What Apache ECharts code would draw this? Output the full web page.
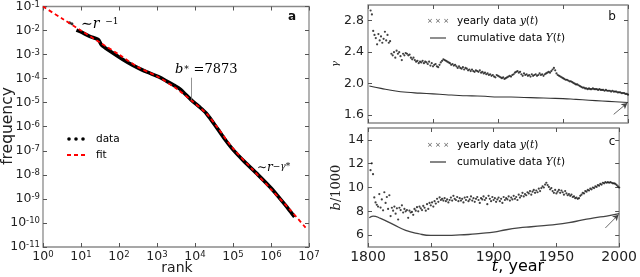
<!DOCTYPE html>
<html><head><meta charset="utf-8">
<script src="https://cdn.jsdelivr.net/npm/echarts@6/dist/echarts.min.js"></script>
<style>html,body{margin:0;padding:0;background:#fff}#c{width:640px;height:277px}</style>
</head><body><div id="c"></div>
<script>
// ---------- Panel a: rank-frequency (log10 exponents) ----------
const dataRankExp = [0.88,1.0,1.23,1.45,1.54,1.76,2.1,2.37,2.6,2.81,3.05,3.25,3.45,3.6,3.9,4.1,4.3,4.6,4.8,5.0,5.3,5.66,6.0,6.23,6.45,6.62];
const dataFreqExp = [-1.98,-2.06,-2.24,-2.37,-2.6,-2.85,-3.2,-3.45,-3.63,-3.77,-3.93,-4.1,-4.28,-4.42,-4.88,-5.15,-5.45,-6.1,-6.55,-6.95,-7.45,-8.0,-8.55,-8.98,-9.4,-9.75];
const headRankExp = [0.70,0.76];
const headFreqExp = [-1.68,-1.72];
const fitRankExp = [0,0.5,1,1.5,2,2.5,3,3.5,3.9,4.3,4.6,5,5.5,6,6.5,6.94];
const fitFreqExp = [-1,-1.5,-2.0,-2.5,-3.0,-3.52,-3.9,-4.4,-4.9,-5.45,-6.05,-6.9,-7.75,-8.6,-9.45,-10.25];
const rankTickExp = [0,1,2,3,4,5,6,7];
const freqTickExp = [-11,-10,-9,-8,-7,-6,-5,-4,-3,-2,-1];
const bStar = 7873;
const bStarLineExp = [-3.96, -4.9];

// ---------- Panels b, c: yearly and cumulative ----------
const yearStart = 1802;
const gammaYearly = [
2.93,2.88,2.67,2.62,2.58,2.50,2.63,2.55,2.60,2.52,
2.57,2.66,2.55,2.62,2.52,2.54,2.38,2.36,2.40,2.33,
2.42,2.38,2.40,2.35,2.30,2.38,2.36,2.39,2.38,2.36,
2.37,2.33,2.31,2.33,2.30,2.28,2.29,2.26,2.28,2.27,
2.29,2.26,2.28,2.27,2.25,2.28,2.23,2.26,2.22,2.24,
2.25,2.22,2.21,2.24,2.27,2.29,2.31,2.30,2.29,2.28,
2.27,2.26,2.24,2.25,2.23,2.24,2.22,2.20,2.22,2.20,
2.19,2.21,2.18,2.20,2.19,2.17,2.18,2.16,2.18,2.16,
2.15,2.17,2.16,2.15,2.17,2.14,2.15,2.13,2.14,2.12,
2.13,2.11,2.12,2.10,2.11,2.09,2.08,2.11,2.10,2.09,
2.08,2.07,2.08,2.06,2.07,2.08,2.09,2.10,2.09,2.11,
2.12,2.14,2.15,2.16,2.14,2.15,2.12,2.10,2.13,2.11,
2.12,2.10,2.11,2.09,2.12,2.10,2.11,2.12,2.10,2.11,
2.13,2.11,2.12,2.10,2.12,2.13,2.14,2.15,2.14,2.16,
2.18,2.20,2.17,2.13,2.11,2.10,2.09,2.08,2.07,2.06,
2.05,2.05,2.04,2.03,2.03,2.02,2.01,2.00,1.99,1.99,
1.98,1.97,1.96,1.95,1.95,1.94,1.94,1.93,1.94,1.93,
1.93,1.94,1.93,1.93,1.93,1.92,1.93,1.92,1.92,1.92,
1.91,1.92,1.91,1.91,1.91,1.90,1.91,1.90,1.90,1.90,
1.89,1.89,1.89,1.88,1.88,1.88,1.87,1.87,1.86];
const bYearly = [
11.46,12.03,11.12,9.17,8.75,8.55,8.40,9.45,8.31,9.00,
8.08,9.60,8.70,9.20,8.20,9.35,7.60,8.30,8.05,8.40,
7.80,8.25,7.31,8.30,8.10,8.50,7.90,8.20,8.00,8.10,
7.45,8.05,7.90,7.95,7.70,8.20,8.05,8.35,8.00,8.40,
8.25,8.10,8.45,8.30,8.05,8.60,8.20,8.70,8.50,8.75,
8.40,8.85,8.65,9.05,8.80,9.17,8.95,9.05,8.90,9.10,
8.85,9.00,8.75,8.95,9.15,8.90,9.30,9.05,8.95,9.20,
8.85,9.10,8.90,9.05,8.75,9.15,8.95,9.20,8.85,9.00,
9.25,8.90,9.10,8.80,9.05,9.20,8.95,8.70,9.10,9.00,
9.25,8.95,9.10,8.60,9.30,9.05,8.85,9.20,8.95,9.10,
8.80,9.00,9.15,8.85,9.05,8.70,9.20,8.95,9.10,9.00,
9.25,8.90,9.15,9.00,9.30,9.05,9.20,8.95,9.40,9.15,
9.30,9.55,9.25,9.45,9.35,9.60,9.50,9.70,9.40,9.65,
9.80,9.55,9.75,9.60,9.90,9.70,9.95,10.10,10.00,10.25,
10.40,10.20,10.05,9.85,9.95,9.70,9.55,9.80,9.50,9.65,
9.80,9.55,9.75,9.60,9.40,9.70,9.50,9.35,9.45,9.30,
9.40,9.20,9.25,9.10,9.15,9.05,9.10,9.30,9.40,9.55,
9.50,9.70,9.65,9.80,9.75,9.90,9.85,10.00,9.95,10.10,
10.05,10.20,10.15,10.30,10.25,10.40,10.35,10.45,10.40,10.45,
10.40,10.45,10.40,10.35,10.35,10.30,10.20,10.10,10.00];
const gammaCumYears = [1801,1810,1820,1830,1840,1850,1860,1870,1880,1890,1900,1910,1920,1930,1940,1950,1960,1970,1980,1990,2000];
const gammaCum = [1.97,1.94,1.91,1.89,1.88,1.87,1.86,1.85,1.845,1.84,1.83,1.83,1.825,1.82,1.815,1.81,1.80,1.79,1.78,1.77,1.76];
const bCumYears = [1801,1804,1810,1820,1830,1840,1850,1860,1870,1880,1890,1900,1910,1920,1930,1940,1950,1960,1970,1980,1990,2000];
const bCum = [7.45,7.6,7.4,6.9,6.4,6.12,5.97,5.97,6.0,6.05,6.15,6.25,6.45,6.6,6.7,6.8,6.9,7.05,7.25,7.45,7.6,7.8];
const arrowB = [[1989,1.61],[1999.5,1.755]];
const arrowC = [[1989,6.6],[1999.5,7.72]];
const gammaTicks = [1.6,2.0,2.4,2.8];
const bTicks = [6,8,10,12,14];

// ---------- build ----------
const p10 = e => Math.pow(10, e);
const pairs = (xs, ys, fx, fy) => xs.map((x, i) => [fx ? fx(x) : x, fy ? fy(ys[i]) : ys[i]]);
const yearly = arr => arr.map((v, i) => [yearStart + i, v]);
const rankTicks = rankTickExp.map(p10);
const freqTicks = freqTickExp.map(p10);

const SANS = 'DejaVu Sans';
const SERIF = 'DejaVu Serif';
const tickStyle = {inside: true, length: 4, lineStyle: {color: '#555', width: 1}};
const logFmt = v => '10{s|' + Math.round(Math.log10(v)) + '}';
const logRich = {s: {fontSize: 8.5, fontFamily: SANS, color: '#222', verticalAlign: 'top', lineHeight: 10}};

function logAxis(ticks, extra) {
  return Object.assign({
    type: 'log', logBase: 10, axisLine: {show: false}, splitLine: {show: false},
    axisTick: Object.assign({customValues: ticks}, tickStyle)
  }, extra);
}
function valAxis(extra) {
  return Object.assign({
    type: 'value', axisLine: {show: false}, splitLine: {show: false},
    axisTick: tickStyle
  }, extra);
}

const chart = echarts.init(document.getElementById('c'), null, {renderer: 'canvas'});
const gridCommon = {show: true, borderColor: '#8a8a8a', borderWidth: 1.3, backgroundColor: 'transparent', containLabel: false};
const yearFmt = v => String(v);

const option = {
  animation: false,
  backgroundColor: '#fff',
  grid: [
    Object.assign({left: 43, top: 5, width: 266, height: 242}, gridCommon),
    Object.assign({left: 368, top: 5, width: 260, height: 118}, gridCommon),
    Object.assign({left: 368, top: 128, width: 260, height: 119}, gridCommon)
  ],
  xAxis: [
    logAxis(rankTicks, {gridIndex: 0, min: 1, max: 1e7, position: 'bottom',
      axisLabel: {customValues: rankTicks, formatter: logFmt, rich: logRich, fontFamily: SANS, fontSize: 12.5, color: '#222', margin: 3}}),
    logAxis(rankTicks, {gridIndex: 0, min: 1, max: 1e7, position: 'top', axisLabel: {show: false}}),
    valAxis({gridIndex: 1, min: 1800, max: 2000, interval: 50, position: 'bottom', axisLabel: {show: false}}),
    valAxis({gridIndex: 1, min: 1800, max: 2000, interval: 50, position: 'top', axisLabel: {show: false}}),
    valAxis({gridIndex: 2, min: 1800, max: 2000, interval: 50, position: 'bottom',
      axisLabel: {formatter: yearFmt, fontFamily: SANS, fontSize: 14, color: '#222', margin: 3}}),
    valAxis({gridIndex: 2, min: 1800, max: 2000, interval: 50, position: 'top', axisLabel: {show: false}})
  ],
  yAxis: [
    logAxis(freqTicks, {gridIndex: 0, min: 1e-11, max: 0.1, position: 'left',
      axisLabel: {customValues: freqTicks, formatter: logFmt, rich: logRich, fontFamily: SANS, fontSize: 12.5, color: '#222', margin: 3}}),
    logAxis(freqTicks, {gridIndex: 0, min: 1e-11, max: 0.1, position: 'right', axisLabel: {show: false}}),
    valAxis({gridIndex: 1, min: 1.5, max: 3.0, position: 'left',
      axisTick: Object.assign({customValues: gammaTicks}, tickStyle),
      axisLabel: {customValues: gammaTicks, formatter: v => v.toFixed(1), fontFamily: SANS, fontSize: 12.5, color: '#222', margin: 4},
      name: 'γ', nameLocation: 'middle', nameGap: 27, nameRotate: 90,
      nameTextStyle: {fontFamily: SERIF, fontStyle: 'italic', fontSize: 10, color: '#222'}}),
    valAxis({gridIndex: 1, min: 1.5, max: 3.0, position: 'right',
      axisTick: Object.assign({customValues: gammaTicks}, tickStyle), axisLabel: {show: false}}),
    valAxis({gridIndex: 2, min: 5, max: 15, position: 'left',
      axisTick: Object.assign({customValues: bTicks}, tickStyle),
      axisLabel: {customValues: bTicks, fontFamily: SANS, fontSize: 12.5, color: '#222', margin: 4},
      name: '{i|b}/1000', nameLocation: 'middle', nameGap: 25, nameRotate: 90,
      nameTextStyle: {fontFamily: SERIF, fontSize: 13, color: '#222', rich: {i: {fontFamily: SERIF, fontStyle: 'italic', fontSize: 13, color: '#222'}}}}),
    valAxis({gridIndex: 2, min: 5, max: 15, position: 'right',
      axisTick: Object.assign({customValues: bTicks}, tickStyle), axisLabel: {show: false}})
  ],
  series: [
    {type: 'line', xAxisIndex: 0, yAxisIndex: 0, data: pairs(dataRankExp, dataFreqExp, p10, p10),
      showSymbol: false, smooth: 0.3, lineStyle: {color: '#000', width: 3.6}, z: 2,
      markLine: {silent: true, symbol: ['none', 'none'], label: {show: false},
        lineStyle: {color: '#777', width: 0.8, type: 'solid'},
        data: [[{coord: [bStar, p10(bStarLineExp[0])]}, {coord: [bStar, p10(bStarLineExp[1])]}]]}},
    {type: 'scatter', xAxisIndex: 0, yAxisIndex: 0, data: pairs(headRankExp, headFreqExp, p10, p10),
      symbolSize: 3, itemStyle: {color: '#000'}, z: 2},
    {type: 'line', xAxisIndex: 0, yAxisIndex: 0, data: pairs(fitRankExp, fitFreqExp, p10, p10),
      showSymbol: false, smooth: 0.3, lineStyle: {color: '#ff0000', width: 1.8, type: [4, 3]}, z: 3},
    {type: 'scatter', xAxisIndex: 2, yAxisIndex: 2, data: yearly(gammaYearly),
      symbolSize: 2.2, itemStyle: {color: '#111'}},
    {type: 'line', xAxisIndex: 2, yAxisIndex: 2, data: pairs(gammaCumYears, gammaCum),
      showSymbol: false, smooth: true, lineStyle: {color: '#333', width: 1.1},
      markLine: {silent: true, symbol: ['none', 'arrow'], symbolSize: [5, 6], label: {show: false},
        lineStyle: {color: '#444', width: 0.8, type: 'solid'},
        data: [[{coord: arrowB[0]}, {coord: arrowB[1]}]]}},
    {type: 'scatter', xAxisIndex: 4, yAxisIndex: 4, data: yearly(bYearly),
      symbolSize: 2.2, itemStyle: {color: '#111'}},
    {type: 'line', xAxisIndex: 4, yAxisIndex: 4, data: pairs(bCumYears, bCum),
      showSymbol: false, smooth: true, lineStyle: {color: '#444', width: 1.3},
      markLine: {silent: true, symbol: ['none', 'arrow'], symbolSize: [5, 6], label: {show: false},
        lineStyle: {color: '#444', width: 0.8, type: 'solid'},
        data: [[{coord: arrowC[0]}, {coord: arrowC[1]}]]}}
  ]
};
chart.setOption(option);

// ---------- axis titles, annotations and legends ----------
const mathRich = {
  t: {fontFamily: SERIF, fontSize: 13, color: '#222'},
  i: {fontFamily: SERIF, fontStyle: 'italic', fontSize: 13, color: '#222'},
  s: {fontFamily: SERIF, fontSize: 9, color: '#222', verticalAlign: 'top', lineHeight: 10},
  si: {fontFamily: SERIF, fontStyle: 'italic', fontSize: 9, color: '#222', verticalAlign: 'top', lineHeight: 10}
};
const legRich = {
  n: {fontFamily: SANS, fontSize: 10.5, color: '#222'},
  i: {fontFamily: SERIF, fontStyle: 'italic', fontSize: 10.5, color: '#222'}
};
function txt(x, y, text, rich, extra) {
  return {type: 'text', z: 10, style: Object.assign({x: x, y: y, text: text, rich: rich, verticalAlign: 'middle', align: 'left'}, extra || {})};
}
const graphic = [
  // axis titles
  {type: 'text', z: 10, style: {x: 177, y: 268, text: 'rank', font: '14px "DejaVu Sans"', fill: '#222', align: 'center', verticalAlign: 'middle'}},
  {type: 'text', z: 10, x: 8, y: 126, rotation: Math.PI / 2, style: {x: 0, y: 0, text: 'frequency', font: '15.5px "DejaVu Sans"', fill: '#222', align: 'center', verticalAlign: 'middle'}},
  {type: 'text', z: 10, style: {x: 518, y: 267, text: '{i|t}{n|, year}', align: 'center', verticalAlign: 'middle',
    rich: {i: {fontFamily: SERIF, fontStyle: 'italic', fontSize: 16, color: '#222'}, n: {fontFamily: SANS, fontSize: 16, color: '#222'}}}},
  // panel labels
  {type: 'text', z: 10, style: {x: 292, y: 17, text: 'a', font: 'bold 12px "DejaVu Sans"', fill: '#111', align: 'center', verticalAlign: 'middle'}},
  {type: 'text', z: 10, style: {x: 612, y: 17, text: 'b', font: '12px "DejaVu Sans"', fill: '#111', align: 'center', verticalAlign: 'middle'}},
  {type: 'text', z: 10, style: {x: 612, y: 142, text: 'c', font: '12px "DejaVu Sans"', fill: '#111', align: 'center', verticalAlign: 'middle'}},
  // annotations
  txt(81, 24, '{t|∼}{i|r}{s|  −1}', Object.assign({}, mathRich, {t: {fontFamily: SERIF, fontSize: 14, color: '#222'}, i: {fontFamily: SERIF, fontStyle: 'italic', fontSize: 14, color: '#222'}})),
  txt(175, 70, '{i|b}{s|∗}{t| =7873}', mathRich),
  txt(257, 168, '{t|∼}{i|r}{s|−}{si|γ}{s|*}', Object.assign({}, mathRich, {t: {fontFamily: SERIF, fontSize: 12, color: '#222'}, i: {fontFamily: SERIF, fontStyle: 'italic', fontSize: 12, color: '#222'}})),
  // legend a
  {type: 'circle', z: 10, shape: {cx: 69, cy: 139, r: 1.8}, style: {fill: '#000'}},
  {type: 'circle', z: 10, shape: {cx: 76, cy: 139, r: 1.8}, style: {fill: '#000'}},
  {type: 'circle', z: 10, shape: {cx: 83, cy: 139, r: 1.8}, style: {fill: '#000'}},
  txt(96, 139, '{n|data}', legRich),
  {type: 'line', z: 10, shape: {x1: 67, y1: 155, x2: 86, y2: 155}, style: {stroke: '#ff0000', lineWidth: 1.8, lineDash: [4, 3]}},
  txt(96, 155, '{n|fit}', legRich),
  // legend b
  txt(427, 21, '× × ×', {}, {font: '7px "DejaVu Sans"', fill: '#555'}),
  txt(457, 21, '{n|yearly data }{i|y}{n|(}{i|t}{n|)}', legRich),
  {type: 'line', z: 10, shape: {x1: 430, y1: 38, x2: 446, y2: 38}, style: {stroke: '#333', lineWidth: 1.1}},
  txt(457, 38, '{n|cumulative data }{i|Y}{n|(}{i|t}{n|)}', legRich),
  // legend c
  txt(427, 145, '× × ×', {}, {font: '7px "DejaVu Sans"', fill: '#555'}),
  txt(457, 145, '{n|yearly data }{i|y}{n|(}{i|t}{n|)}', legRich),
  {type: 'line', z: 10, shape: {x1: 430, y1: 162, x2: 446, y2: 162}, style: {stroke: '#444', lineWidth: 1.3}},
  txt(457, 162, '{n|cumulative data }{i|Y}{n|(}{i|t}{n|)}', legRich)
];
chart.setOption({graphic: graphic});
</script>
</body></html>
